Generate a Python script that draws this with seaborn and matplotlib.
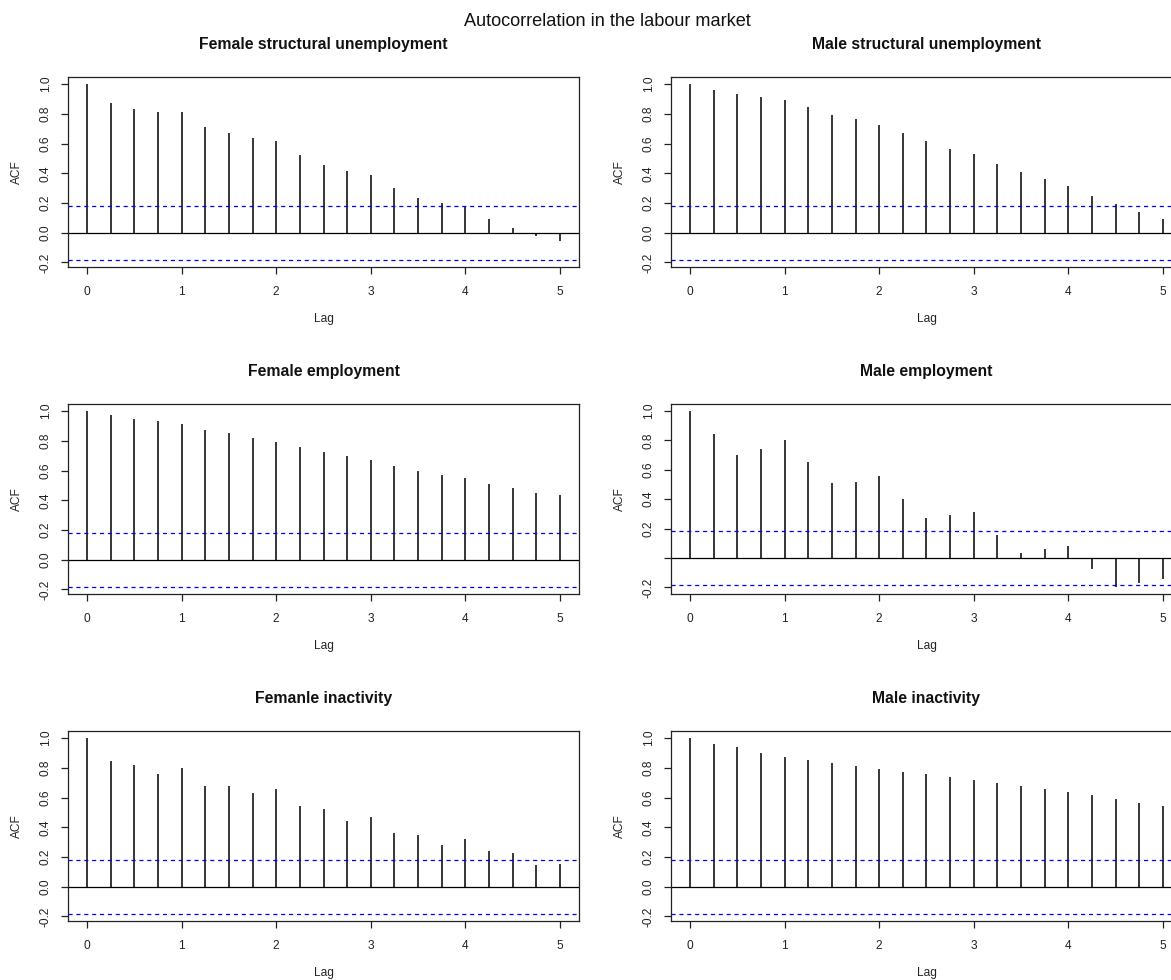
import matplotlib
matplotlib.use("Agg")
import matplotlib.pyplot as plt
import numpy as np
import seaborn as sns

# Lags (in years, quarterly data)
lags = [0.0, 0.25, 0.5, 0.75, 1.0, 1.25, 1.5, 1.75, 2.0, 2.25, 2.5,
        2.75, 3.0, 3.25, 3.5, 3.75, 4.0, 4.25, 4.5, 4.75, 5.0]

female_structural_unemployment = [1.00, 0.875, 0.83, 0.81, 0.81, 0.71, 0.67, 0.64, 0.615, 0.52, 0.455,
                                  0.415, 0.39, 0.30, 0.235, 0.20, 0.17, 0.09, 0.03, -0.02, -0.055]
male_structural_unemployment = [1.00, 0.96, 0.93, 0.915, 0.89, 0.845, 0.795, 0.765, 0.725, 0.67, 0.615,
                                0.565, 0.53, 0.465, 0.41, 0.36, 0.315, 0.25, 0.195, 0.14, 0.09]
female_employment = [1.00, 0.97, 0.945, 0.93, 0.915, 0.875, 0.85, 0.82, 0.795, 0.755, 0.725,
                     0.695, 0.67, 0.63, 0.60, 0.57, 0.55, 0.51, 0.48, 0.45, 0.435]
male_employment = [1.00, 0.845, 0.70, 0.74, 0.80, 0.65, 0.51, 0.52, 0.555, 0.40, 0.27,
                   0.29, 0.31, 0.155, 0.035, 0.06, 0.085, -0.075, -0.197, -0.17, -0.14]
female_inactivity = [1.00, 0.845, 0.82, 0.76, 0.80, 0.68, 0.68, 0.63, 0.66, 0.545, 0.52,
                     0.44, 0.47, 0.36, 0.345, 0.28, 0.32, 0.24, 0.225, 0.145, 0.155]
male_inactivity = [1.00, 0.96, 0.94, 0.90, 0.875, 0.85, 0.835, 0.81, 0.795, 0.77, 0.755,
                   0.735, 0.715, 0.695, 0.68, 0.655, 0.64, 0.615, 0.59, 0.565, 0.545]

panel_titles = ["Female structural unemployment", "Male structural unemployment",
                "Female employment", "Male employment",
                "Femanle inactivity", "Male inactivity"]
panel_values = [female_structural_unemployment, male_structural_unemployment,
                female_employment, male_employment,
                female_inactivity, male_inactivity]

x_ticks = [0, 1, 2, 3, 4, 5]
y_ticks = [-0.2, 0.0, 0.2, 0.4, 0.6, 0.8, 1.0]
conf_bound = 0.183  # approx. 95% white-noise band

sns.set_theme(style="ticks", rc={
    "axes.edgecolor": "#222222",
    "axes.linewidth": 0.9,
    "xtick.color": "#222222",
    "ytick.color": "#222222",
    "xtick.major.size": 5,
    "ytick.major.size": 5,
    "xtick.major.width": 0.9,
    "ytick.major.width": 0.9,
    "xtick.labelsize": 8.6,
    "ytick.labelsize": 8.6,
    "axes.labelsize": 8.6,
    "text.color": "#111111",
    "axes.labelcolor": "#222222",
})
plt.rcParams["font.family"] = ["Liberation Sans", "DejaVu Sans"]

W, H = 1171, 980
fig = plt.figure(figsize=(W / 100, H / 100), dpi=100)
fig.patch.set_facecolor("white")

col_left = [68, 671]
row_top = [77, 404, 731]
box_w, box_h = 511, 190

for i, (title, vals) in enumerate(zip(panel_titles, panel_values)):
    r, c = divmod(i, 2)
    ax = fig.add_axes([col_left[c] / W, 1 - (row_top[r] + box_h) / H, box_w / W, box_h / H])
    ax.set_facecolor("white")

    vals = np.asarray(vals)
    lo = min(vals.min(), -conf_bound)
    hi = max(vals.max(), conf_bound)
    span = hi - lo
    ax.set_ylim(lo - 0.04 * span, hi + 0.04 * span)
    ax.set_xlim(-0.2, 5.2)

    ax.vlines(lags, 0, vals, color="black", linewidth=1.1)
    ax.axhline(0, color="black", linewidth=0.9)
    for b in (conf_bound, -conf_bound):
        ax.axhline(b, color="#0000ff", linewidth=0.9, dashes=(3.3, 3.0))

    ax.set_xticks(x_ticks)
    ax.set_xticklabels([str(t) for t in x_ticks])
    ax.set_yticks(y_ticks)
    ylabels = ["%.1f" % t for t in y_ticks]
    if i == 3:
        ylabels[1] = ""
    ax.set_yticklabels(ylabels, rotation=90, va="center")
    ax.tick_params(axis="x", pad=8.5)
    ax.tick_params(axis="y", pad=6.6)

    for s in ax.spines.values():
        s.set_visible(True)

    ax.set_title(title, fontsize=11.3, fontweight="bold", pad=20.5, color="#111111")
    ax.set_xlabel("Lag")
    ax.xaxis.set_label_coords(0.5, -52 / box_h)
    ax.xaxis.label.set_va("center")
    ax.set_ylabel("ACF")
    ax.yaxis.set_label_coords(-51 / box_w, 0.5)
    ax.yaxis.label.set_va("center")
    ax.yaxis.label.set_ha("center")

fig.text(607.5 / W, 1 - 22 / H, "Autocorrelation in the labour market",
         ha="center", va="center", fontsize=13.1, color="#111111")

fig.savefig("out.png", dpi=100, facecolor="white")
